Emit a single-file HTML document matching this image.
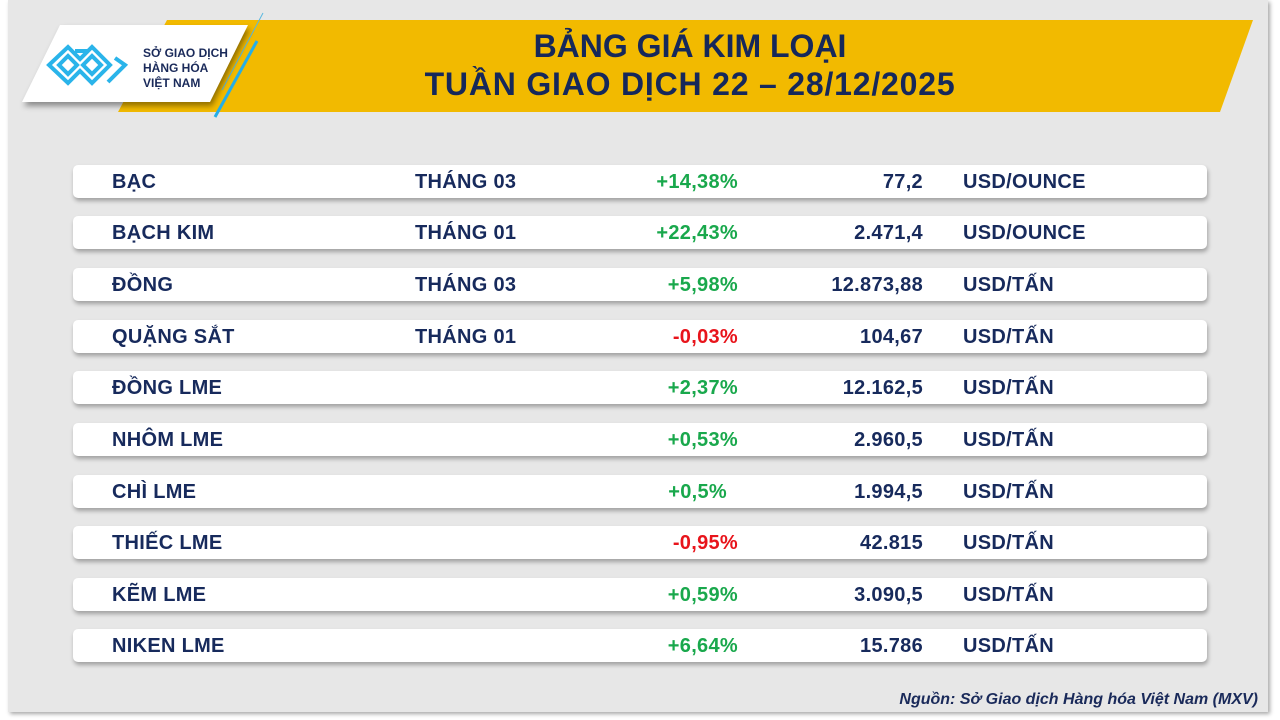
<!DOCTYPE html>
<html><head><meta charset="utf-8"><style>
*{margin:0;padding:0;box-sizing:border-box}
body{width:1280px;height:720px;background:#fff;position:relative;overflow:hidden;font-family:"Liberation Sans",sans-serif}
.panel{position:absolute;left:8px;top:0;width:1260px;height:712px;background:#e7e7e7;box-shadow:2px 2px 4px rgba(0,0,0,.35)}
.row{position:absolute;left:73px;width:1134px;height:33px;background:#fff;border-radius:5px;box-shadow:1px 3px 4px rgba(0,0,0,.3)}
.row span{position:absolute;top:1px;line-height:33px;font-weight:bold;font-size:20px;color:#172a5c;white-space:nowrap;letter-spacing:0.3px}
.c1{left:39px}.c2{left:342px}
.c3{right:469px;color:#19a84c!important}.c3.r{color:#e8141b!important}
.c4{right:284px}.c5{left:890px}
.title{position:absolute;left:300px;width:780px;text-align:center;font-weight:bold;font-size:32px;color:#16285a}
</style></head><body>
<div class="panel"></div>
<svg style="position:absolute;left:0;top:0" width="1280" height="130">
<polygon points="167,20 1253,20 1220,112 118,112" fill="#f2ba00"/>
<line x1="263" y1="13" x2="222" y2="90" stroke="#5ab8e0" stroke-width="1"/>
<line x1="257" y1="41" x2="215" y2="117" stroke="#25aee8" stroke-width="3"/>
<polygon points="60,25 248,25 210,102 22,102" fill="#fff" style="filter:drop-shadow(2px 4px 3px rgba(0,0,0,.4))"/>
<g fill="none" stroke="#2ab4ea" stroke-width="4">
<path d="M49,65 L68,47 L80,59 L92,47 L110,65 L92,83 L80,71 L68,83 Z"/>
<path d="M59,65 L68,56 L77,65 L68,74 Z"/>
<path d="M83,65 L92,56 L101,65 L92,74 Z"/>
<path d="M75,51 L88,51 M115,58 L125,65 L108,82"/>
</g>
<text x="143" y="57" font-family="Liberation Sans" font-weight="bold" font-size="12" fill="#1a2a5a">SỞ GIAO DỊCH</text>
<text x="143" y="72" font-family="Liberation Sans" font-weight="bold" font-size="12" fill="#1a2a5a">HÀNG HÓA</text>
<text x="143" y="87" font-family="Liberation Sans" font-weight="bold" font-size="12" fill="#1a2a5a">VIỆT NAM</text>
</svg>
<div class="title" style="top:28px">BẢNG GIÁ KIM LOẠI</div>
<div class="title" style="top:66px;letter-spacing:0.8px">TUẦN GIAO DỊCH 22 – 28/12/2025</div>

<div class="row" style="top:165px"><span class="c1">BẠC</span><span class="c2">THÁNG 03</span><span class="c3">+14,38%</span><span class="c4">77,2</span><span class="c5">USD/OUNCE</span></div>
<div class="row" style="top:216px"><span class="c1">BẠCH KIM</span><span class="c2">THÁNG 01</span><span class="c3">+22,43%</span><span class="c4">2.471,4</span><span class="c5">USD/OUNCE</span></div>
<div class="row" style="top:268px"><span class="c1">ĐỒNG</span><span class="c2">THÁNG 03</span><span class="c3">+5,98%</span><span class="c4">12.873,88</span><span class="c5">USD/TẤN</span></div>
<div class="row" style="top:320px"><span class="c1">QUẶNG SẮT</span><span class="c2">THÁNG 01</span><span class="c3 r">-0,03%</span><span class="c4">104,67</span><span class="c5">USD/TẤN</span></div>
<div class="row" style="top:371px"><span class="c1">ĐỒNG LME</span><span class="c3">+2,37%</span><span class="c4">12.162,5</span><span class="c5">USD/TẤN</span></div>
<div class="row" style="top:423px"><span class="c1">NHÔM LME</span><span class="c3">+0,53%</span><span class="c4">2.960,5</span><span class="c5">USD/TẤN</span></div>
<div class="row" style="top:475px"><span class="c1">CHÌ LME</span><span class="c3" style="right:480px">+0,5%</span><span class="c4">1.994,5</span><span class="c5">USD/TẤN</span></div>
<div class="row" style="top:526px"><span class="c1">THIẾC LME</span><span class="c3 r">-0,95%</span><span class="c4">42.815</span><span class="c5">USD/TẤN</span></div>
<div class="row" style="top:578px"><span class="c1">KẼM LME</span><span class="c3">+0,59%</span><span class="c4">3.090,5</span><span class="c5">USD/TẤN</span></div>
<div class="row" style="top:629px"><span class="c1">NIKEN LME</span><span class="c3">+6,64%</span><span class="c4">15.786</span><span class="c5">USD/TẤN</span></div>

<div style="position:absolute;right:22px;top:691px;font-size:16px;font-style:italic;font-weight:bold;color:#1a2a5a">Nguồn: Sở Giao dịch Hàng hóa Việt Nam (MXV)</div>
</body></html>
